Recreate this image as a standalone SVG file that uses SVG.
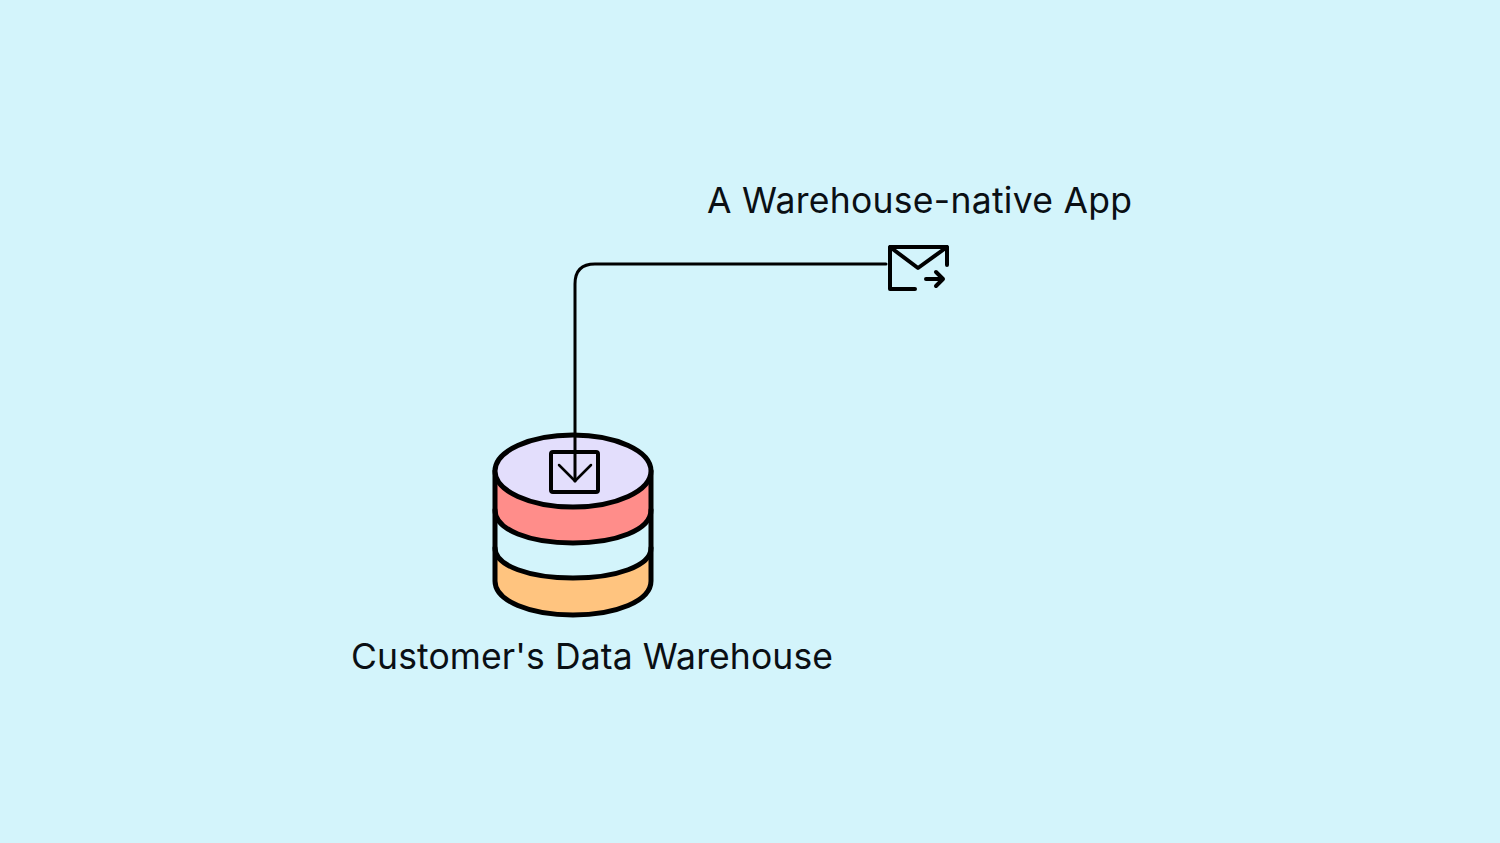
<svg xmlns="http://www.w3.org/2000/svg" width="1500" height="843" viewBox="0 0 1500 843">
<style>
.l{font-family:"Inter","Liberation Sans",sans-serif;font-size:35.5px;fill:#0a0f14}
.s{fill:none;stroke:#000;stroke-linecap:round;stroke-linejoin:round}
</style>
<rect width="1500" height="843" fill="#d3f4fb"/>
<g id="warehouse">
<path d="M495 550V581C495 601 530 615 573 615S651 601 651 581V550Z" fill="#ffc47f"/>
<path d="M495 512V548C495 566 530 578 573 578S651 566 651 548V512Z" fill="#d3f4fb"/>
<path d="M495 471V510C495 530 530 543 573 543S651 530 651 510V471Z" fill="#ff8d8a"/>
<path class="s" stroke-width="5" d="M495 510C495 530 530 543 573 543S651 530 651 510"/>
<path class="s" stroke-width="5" d="M495 548C495 566 530 578 573 578S651 566 651 548"/>
<path class="s" stroke-width="5" d="M495 471V581C495 601 530 615 573 615S651 601 651 581V471"/>
<ellipse cx="573" cy="471" rx="78" ry="36" fill="#e3defc" stroke="#000" stroke-width="5"/>
<rect x="551" y="452" width="47" height="40" rx="2" fill="none" stroke="#000" stroke-width="4"/>
<path class="s" stroke-width="2.5" d="M559 465L575 481L591 465"/>
<text class="l" x="351" y="669" textLength="482" lengthAdjust="spacing">Customer's Data Warehouse</text>
</g>
<g id="app">
<path class="s" stroke-width="4" d="M915 289H890V247H947V265M890 247L918 268L947 247"/>
<path class="s" stroke-width="4" d="M926 279H943M936 272L943 279L936 286"/>
<text class="l" x="707" y="213" textLength="425" lengthAdjust="spacing">A Warehouse-native App</text>
</g>
<g id="connectors">
<path class="s" stroke-width="3" d="M886 264H595Q575 264 575 284V481"/>
</g>
</svg>
